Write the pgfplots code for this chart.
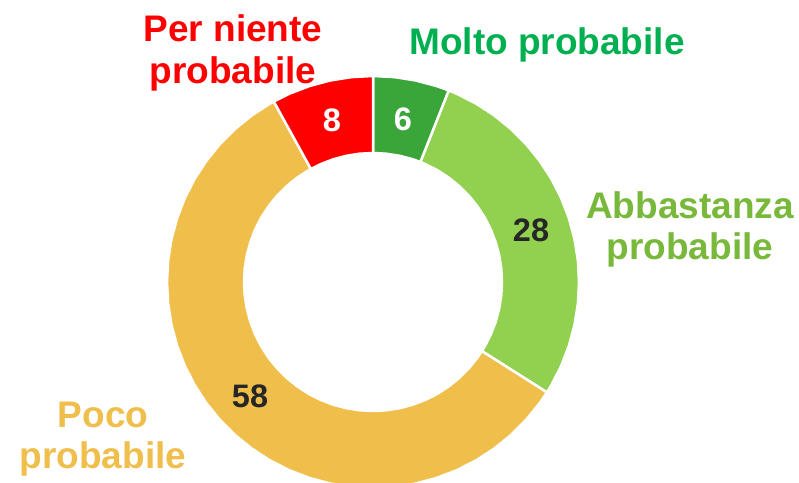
\documentclass[border=0pt]{standalone}
\usepackage{pgfplots}
\pgfplotsset{compat=1.18}
\usepackage{fontspec}
\setmainfont{Liberation Sans}
\definecolor{cMolto}{HTML}{3AA63A}
\definecolor{cAbb}{HTML}{92D050}
\definecolor{cPoco}{HTML}{F0BE4B}
\definecolor{cPer}{HTML}{FF0000}
\definecolor{tMolto}{HTML}{00B050}
\definecolor{tAbb}{HTML}{78B83A}
\definecolor{tNum}{HTML}{262626}
\begin{document}
\begin{tikzpicture}
\path[use as bounding box] (0,0) rectangle (799pt,482pt);
\clip (0,0) rectangle (799pt,482pt);
\begin{axis}[at={(0,0)}, anchor=south west, hide axis, scale only axis,
  width=799pt, height=482pt, xmin=-373, xmax=426, ymin=-200, ymax=282,
  clip=true]
% Molto probabile: 6
\addplot[fill=cMolto, draw=white, line width=2.5pt, line join=round, data cs=polar] coordinates {
(90,206) (84,206) (78,206) (72,206) (68.4,206)
(68.4,129) (72,129) (78,129) (84,129) (90,129)} -- cycle;
% Abbastanza probabile: 28
\addplot[fill=cAbb, draw=white, line width=2.5pt, line join=round, data cs=polar] coordinates {
(68.4,206) (66,206) (60,206) (54,206) (48,206) (42,206) (36,206) (30,206) (24,206) (18,206) (12,206) (6,206) (0,206) (-6,206) (-12,206) (-18,206) (-24,206) (-30,206) (-32.4,206)
(-32.4,129) (-30,129) (-24,129) (-18,129) (-12,129) (-6,129) (0,129) (6,129) (12,129) (18,129) (24,129) (30,129) (36,129) (42,129) (48,129) (54,129) (60,129) (66,129) (68.4,129)} -- cycle;
% Poco probabile: 58
\addplot[fill=cPoco, draw=white, line width=2.5pt, line join=round, data cs=polar] coordinates {
(-32.4,206) (-36,206) (-42,206) (-48,206) (-54,206) (-60,206) (-66,206) (-72,206) (-78,206) (-84,206) (-90,206) (-96,206) (-102,206) (-108,206) (-114,206) (-120,206) (-126,206) (-132,206) (-138,206) (-144,206) (-150,206) (-156,206) (-162,206) (-168,206) (-174,206) (-180,206) (-186,206) (-192,206) (-198,206) (-204,206) (-210,206) (-216,206) (-222,206) (-228,206) (-234,206) (-240,206) (-241.2,206)
(-241.2,129) (-240,129) (-234,129) (-228,129) (-222,129) (-216,129) (-210,129) (-204,129) (-198,129) (-192,129) (-186,129) (-180,129) (-174,129) (-168,129) (-162,129) (-156,129) (-150,129) (-144,129) (-138,129) (-132,129) (-126,129) (-120,129) (-114,129) (-108,129) (-102,129) (-96,129) (-90,129) (-84,129) (-78,129) (-72,129) (-66,129) (-60,129) (-54,129) (-48,129) (-42,129) (-36,129) (-32.4,129)} -- cycle;
% Per niente probabile: 8
\addplot[fill=cPer, draw=white, line width=2.5pt, line join=round, data cs=polar] coordinates {
(118.8,206) (114,206) (108,206) (102,206) (96,206) (90,206)
(90,129) (96,129) (102,129) (108,129) (114,129) (118.8,129)} -- cycle;
% value labels
\begin{scope}[every node/.style={inner sep=0pt, anchor=base, font=\fontsize{32.5}{36}\selectfont\bfseries}]
\node[text=white] at (axis cs:-41,150) {8};
\node[text=white] at (axis cs:30,151) {6};
\node[text=tNum] at (axis cs:158,40) {28};
\node[text=tNum] at (axis cs:-123,-125) {58};
\end{scope}
% category labels
\begin{scope}[every node/.style={inner sep=0pt, anchor=base, font=\fontsize{37}{41}\selectfont\bfseries}]
\node[text=cPer] at (axis cs:-140,240) {Per niente};
\node[text=cPer] at (axis cs:-140,198.5) {probabile};
\node[text=tMolto] at (axis cs:174,227) {Molto probabile};
\node[text=tAbb] at (axis cs:317,63) {Abbastanza};
\node[text=tAbb] at (axis cs:317,22) {probabile};
\node[text=cPoco] at (axis cs:-270,-145) {Poco};
\node[text=cPoco] at (axis cs:-270,-186) {probabile};
\end{scope}
\end{axis}
\end{tikzpicture}
\end{document}
